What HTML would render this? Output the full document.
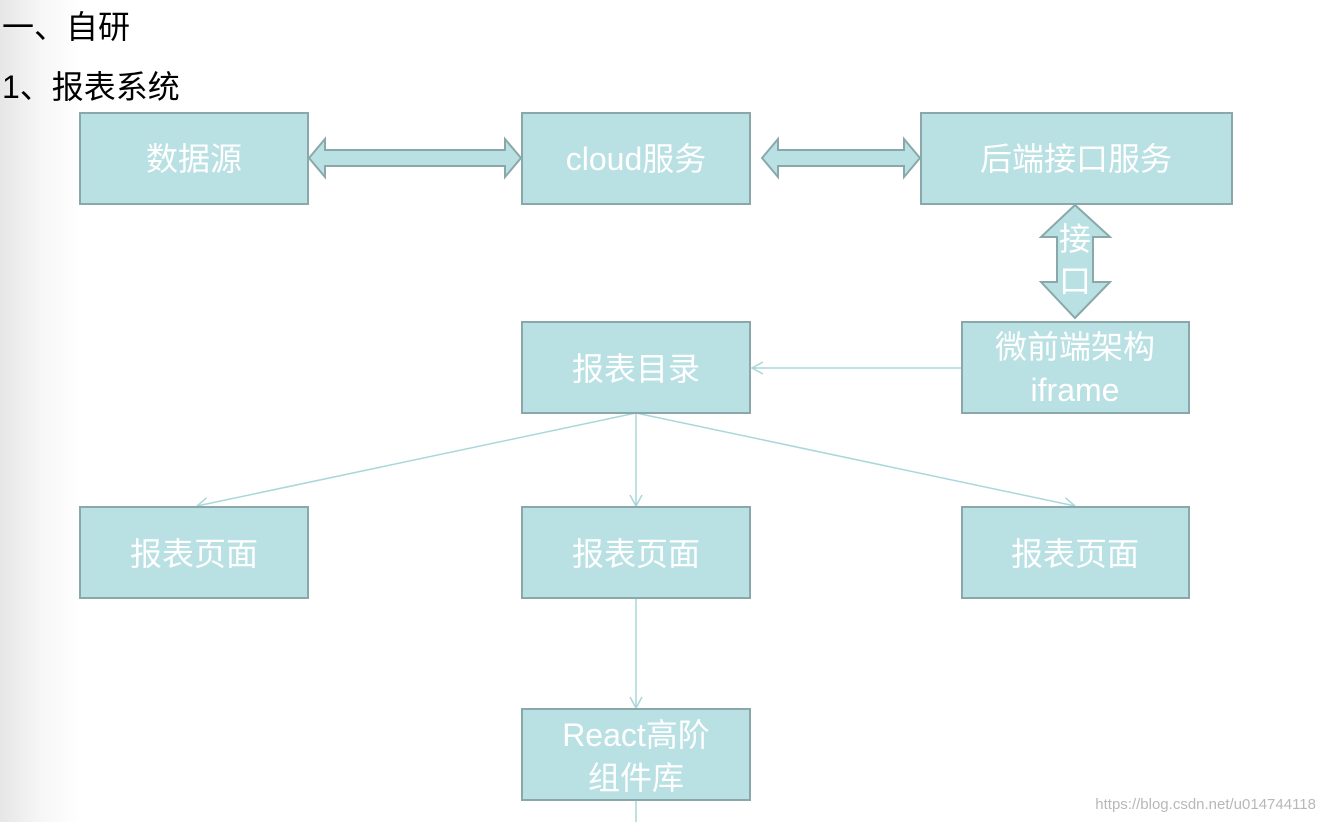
<!DOCTYPE html>
<html><head><meta charset="utf-8"><style>
html,body{margin:0;padding:0;}
body{width:1324px;height:822px;overflow:hidden;background:linear-gradient(to right,#e6e6e6 0px,#f6f6f6 40px,#fff 80px);font-family:"Liberation Sans","Noto Sans CJK SC",sans-serif;}
</style></head><body>
<svg width="1324" height="822" viewBox="0 0 1324 822" xmlns="http://www.w3.org/2000/svg" style="position:absolute;left:0;top:0">
<defs>
<marker id="a" markerWidth="14" markerHeight="14" refX="12" refY="7" orient="auto" markerUnits="userSpaceOnUse">
<path d="M1,1 L12,7 L1,13" fill="none" stroke="#a9d7db" stroke-width="1.5"/>
</marker>
</defs>
<g font-family="Liberation Sans, Noto Sans CJK SC, sans-serif" fill="#000">
<text x="2" y="38" font-size="32">一、自研</text>
<text x="2" y="98" font-size="32">1、报表系统</text>
</g>
<g stroke="#a9d7db" stroke-width="1.5" fill="none">
<line x1="962" y1="368" x2="752" y2="368" marker-end="url(#a)"/>
<line x1="636" y1="413" x2="197" y2="506" marker-end="url(#a)"/>
<line x1="636" y1="413" x2="636" y2="506" marker-end="url(#a)"/>
<line x1="636" y1="413" x2="1075" y2="506" marker-end="url(#a)"/>
<line x1="636" y1="598" x2="636" y2="708" marker-end="url(#a)"/>
<line x1="636" y1="800" x2="636" y2="822"/>
</g>
<g fill="#b9e0e3" stroke="#8aa8aa" stroke-width="2">
<rect x="80" y="113" width="228" height="91"/>
<rect x="522" y="113" width="228" height="91"/>
<rect x="921" y="113" width="311" height="91"/>
<rect x="522" y="322" width="228" height="91"/>
<rect x="962" y="322" width="227" height="91"/>
<rect x="80" y="507" width="228" height="91"/>
<rect x="522" y="507" width="228" height="91"/>
<rect x="962" y="507" width="227" height="91"/>
<rect x="522" y="709" width="228" height="91"/>
<path d="M309,158 L325,139 L325,150 L505,150 L505,139 L521,158 L505,177 L505,166 L325,166 L325,177 Z"/>
<path d="M762,158 L778,139 L778,150 L904,150 L904,139 L920,158 L904,177 L904,166 L778,166 L778,177 Z"/>
<path d="M1075,205 L1110,237 L1093,237 L1093,282 L1110,282 L1075,318 L1041,282 L1057,282 L1057,237 L1041,237 Z"/>
</g>
<g fill="#fff" font-family="Liberation Sans, Noto Sans CJK SC, sans-serif" font-size="32" text-anchor="middle">
<text x="194" y="170">数据源</text>
<text x="636" y="170">cloud服务</text>
<text x="1076" y="170">后端接口服务</text>
<text x="1075" y="250">接</text>
<text x="1075" y="292">口</text>
<text x="636" y="380">报表目录</text>
<text x="1075" y="358">微前端架构</text>
<text x="1075" y="401">iframe</text>
<text x="194" y="565">报表页面</text>
<text x="636" y="565">报表页面</text>
<text x="1075" y="565">报表页面</text>
<text x="636" y="746">React高阶</text>
<text x="636" y="789">组件库</text>
</g>
<text x="1316" y="809" fill="#b8b8b8" font-size="15" text-anchor="end" font-family="Liberation Sans, sans-serif">https://blog.csdn.net/u014744118</text>
</svg>
</body></html>
